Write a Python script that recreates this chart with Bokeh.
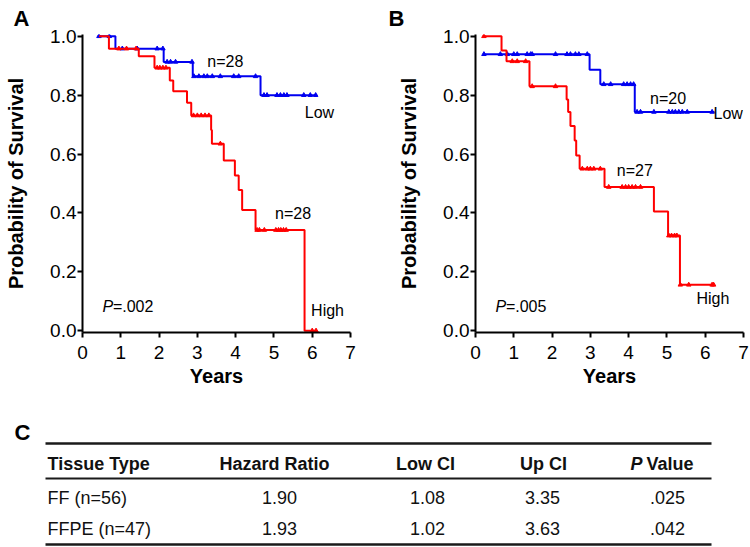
import numpy as np
from bokeh.plotting import figure
from bokeh.models import Range1d, FixedTicker, Label, NumeralTickFormatter
from bokeh.layouts import column, row
from bokeh.embed import file_html
from bokeh.resources import INLINE
from bokeh.core.properties import value

# ---------------- data ----------------
# Panel A (FF)
a_low_start, a_low_s0, a_low_end = 0.43, 1.0, 6.13
a_low_times = [0.86, 2.12, 2.88, 4.65]
a_low_surv = [0.958, 0.913, 0.864, 0.800]
a_low_cens = [0.43, 0.70, 1.04, 1.43, 1.95, 2.10, 2.21, 2.30, 2.43, 2.86,
              2.91, 3.04, 3.17, 3.26, 3.39, 3.60, 3.95, 4.08, 4.52,
              4.74, 4.82, 5.08, 5.17, 5.26, 5.34, 5.78, 5.95, 6.09]

a_high_start, a_high_s0, a_high_end = 0.43, 1.0, 6.13
a_high_times = [0.69, 1.47, 1.88, 2.28, 2.37, 2.73, 2.84, 3.36, 3.38, 3.69,
                3.98, 4.08, 4.17, 4.52, 5.80]
a_high_surv = [0.958, 0.932, 0.893, 0.850, 0.813, 0.774, 0.731, 0.682, 0.635,
               0.578, 0.527, 0.478, 0.410, 0.342, 0.0]
a_high_cens = [0.95, 1.15, 1.40, 1.95, 2.02, 2.10, 2.18, 2.90, 3.00, 3.10,
               3.20, 3.30, 3.60, 4.56, 4.62, 4.75, 5.05, 5.12, 5.18, 5.25,
               5.32, 6.00, 6.10]

# Panel B (FFPE)
b_low_start, b_low_s0, b_low_end = 0.22, 0.939, 6.24
b_low_times = [2.98, 3.26, 4.16]
b_low_surv = [0.886, 0.837, 0.743]
b_low_cens = [0.22, 0.65, 0.83, 1.00, 1.09, 1.35, 1.44, 1.48, 2.09, 2.39,
              2.48, 2.61, 2.70, 2.92, 3.35, 3.53, 3.87, 3.96, 4.05, 4.13,
              4.22, 4.31, 4.66, 5.05, 5.14, 5.22, 5.31, 5.40, 5.53, 6.18]

b_high_start, b_high_s0, b_high_end = 0.22, 1.0, 6.24
b_high_times = [0.68, 0.81, 1.41, 2.38, 2.42, 2.48, 2.59, 2.63, 2.72, 3.37,
                4.66, 5.03, 5.34]
b_high_surv = [0.952, 0.915, 0.830, 0.785, 0.743, 0.695, 0.646, 0.595, 0.550,
               0.488, 0.405, 0.323, 0.156]
b_high_cens = [0.22, 0.96, 1.09, 1.31, 1.48, 2.09, 2.79, 2.92, 3.00, 3.09,
               3.26, 3.48, 3.83, 3.92, 4.00, 4.09, 4.18, 4.31, 5.05, 5.12,
               5.20, 5.26, 5.35, 5.57, 6.18, 6.22]

x_ticks = [0, 1, 2, 3, 4, 5, 6, 7]
y_ticks = [0.0, 0.2, 0.4, 0.6, 0.8, 1.0]

# Table (panel C)
table_header = ["Tissue Type", "Hazard Ratio", "Low CI", "Up CI", "Value"]
tissue_type = ["FF (n=56)", "FFPE (n=47)"]
hazard_ratio = [1.90, 1.93]
low_ci = [1.08, 1.02]
up_ci = [3.35, 3.63]
p_value = [0.025, 0.042]

RED = "#FF0000"
BLUE = "#0000F0"
FONT = "Liberation Sans"


def km(fig, start, s0, times, surv, end, cens, color):
    xs = [start] + list(times) + [end]
    ys = [s0] + list(surv) + [surv[-1]]
    fig.step(xs, ys, mode="after", line_color=color, line_width=2)
    levels = np.array([s0] + list(surv))
    idx = np.searchsorted(np.array(times), np.array(cens), side="right")
    fig.scatter(cens, levels[idx], marker="triangle", size=4.5,
                line_color=color, fill_color=color)


def panel(width, left, right, letter):
    p = figure(width=width, height=394, output_backend="svg",
               toolbar_location=None, x_range=Range1d(0, 7),
               y_range=Range1d(-0.006, 1.006),
               min_border_left=left, min_border_right=right,
               min_border_top=34, min_border_bottom=62,
               title=letter, title_location="above")
    p.title.text_font = FONT
    p.title.text_font_size = "22px"
    p.title.text_font_style = "bold"
    p.title.text_color = "black"
    p.title.align = "left"
    p.title.offset = -(left - 13)
    p.title.standoff = 7
    p.outline_line_color = None
    p.grid.visible = False
    p.background_fill_color = "white"
    p.xaxis.ticker = FixedTicker(ticks=x_ticks)
    p.yaxis.ticker = FixedTicker(ticks=y_ticks)
    p.yaxis.formatter = NumeralTickFormatter(format="0.0")
    for ax in (p.xaxis, p.yaxis):
        ax.axis_line_width = 2
        ax.axis_line_color = "black"
        ax.major_tick_line_width = 2
        ax.major_tick_line_color = "black"
        ax.major_tick_in = 0
        ax.major_tick_out = 5
        ax.minor_tick_line_color = None
        ax.major_label_text_font = FONT
        ax.major_label_text_font_size = "19px"
        ax.major_label_text_color = "black"
        ax.axis_label_text_font = FONT
        ax.axis_label_text_font_size = "20px"
        ax.axis_label_text_font_style = "bold"
        ax.axis_label_text_color = "black"
    p.xaxis.major_label_standoff = 8
    p.xaxis.axis_label_standoff = 3
    p.yaxis.major_label_standoff = 1
    p.yaxis.axis_label_standoff = 20
    p.xaxis.axis_label = "Years"
    p.yaxis.axis_label = "Probability of Survival"
    return p


def lab(p, x, y, text, align="center", size="16px", style="normal", xoff=0):
    p.add_layout(Label(x=x, y=y, text=text, text_align=align,
                       text_baseline="middle", text_font=FONT,
                       text_font_size=size, text_font_style=style,
                       text_color="black", x_offset=xoff))


# Panel A
pA = panel(375, 82, 25, "A")
km(pA, a_low_start, a_low_s0, a_low_times, a_low_surv, a_low_end, a_low_cens, BLUE)
km(pA, a_high_start, a_high_s0, a_high_times, a_high_surv, a_high_end, a_high_cens, RED)
lab(pA, 3.73, 0.913, "n=28")
lab(pA, 6.19, 0.742, "Low")
lab(pA, 5.50, 0.397, "n=28")
lab(pA, 6.40, 0.070, "High")
lab(pA, 0.52, 0.082, "P", align="left", style="italic")
lab(pA, 0.52, 0.082, "=.002", align="left", xoff=10.5)

# Panel B
pB = panel(375, 100, 7, "B")
km(pB, b_low_start, b_low_s0, b_low_times, b_low_surv, b_low_end, b_low_cens, BLUE)
km(pB, b_high_start, b_high_s0, b_high_times, b_high_surv, b_high_end, b_high_cens, RED)
lab(pB, 5.03, 0.788, "n=20")
lab(pB, 6.60, 0.739, "Low")
lab(pB, 4.16, 0.544, "n=27")
lab(pB, 6.20, 0.108, "High")
lab(pB, 0.52, 0.082, "P", align="left", style="italic")
lab(pB, 0.52, 0.082, "=.005", align="left", xoff=10.5)

# Panel C: table
TW, TH = 750, 153
pT = figure(width=TW, height=TH, output_backend="svg", toolbar_location=None,
            x_range=Range1d(0, TW), y_range=Range1d(TH, 0),
            x_axis_location=None, y_axis_location=None,
            min_border=0)
pT.outline_line_color = None
pT.grid.visible = False

col_x = [47, 274, 425, 543, 646]
col_align = ["left", "center", "center", "center", "left"]
val_x = [47, 279, 427, 542, 667]
val_align = ["left", "center", "center", "center", "center"]
y_top, y_head, y_hline, y_rows, y_bot = 49, 69, 84, [103, 134], 150

pT.segment(x0=[45, 45, 45], y0=[y_top, y_hline, y_bot],
           x1=[711, 711, 711], y1=[y_top, y_hline, y_bot],
           line_color="#1a1a1a", line_width=[2.5, 2, 2.5])

for x, a, t in zip(col_x, col_align, table_header):
    pT.text(x=[x], y=[y_head], text=[t], text_align=a, text_baseline="middle",
            text_font=value(FONT), text_font_size="18px",
            text_font_style="bold", text_color="#111")
pT.text(x=[630], y=[y_head], text=["P"], text_align="left", text_baseline="middle",
        text_font=value(FONT), text_font_size="18px",
        text_font_style="bold italic", text_color="#111")

cols = [tissue_type,
        [f"{v:.2f}" for v in hazard_ratio],
        [f"{v:.2f}" for v in low_ci],
        [f"{v:.2f}" for v in up_ci],
        [f"{v:.3f}".lstrip("0") for v in p_value]]
for x, a, vals in zip(val_x, val_align, cols):
    pT.text(x=[x] * len(vals), y=y_rows, text=vals, text_align=a,
            text_baseline="middle", text_font=value(FONT),
            text_font_size="18px", text_color="#111")

lab(pT, 22, 38, "C", size="22px", style="bold")

layout = column(row(pA, pB), pT)
open("out.html", "w").write(file_html(layout, INLINE))
